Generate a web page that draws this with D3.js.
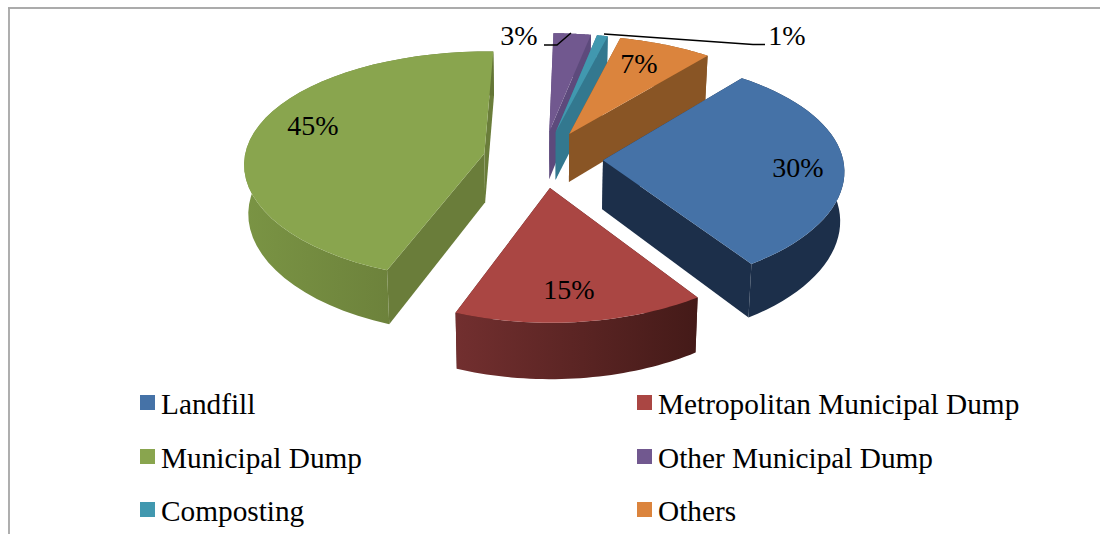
<!DOCTYPE html>
<html><head><meta charset="utf-8">
<script src="https://cdn.jsdelivr.net/npm/d3@7"></script>
<style>html,body{margin:0;padding:0;background:#fff;overflow:hidden}svg{display:block}text{font-family:"Liberation Serif",serif;fill:#000}</style>
</head><body><svg id="c" width="1100" height="534"></svg>
<script>
const categories = ["Landfill","Metropolitan Municipal Dump","Municipal Dump","Other Municipal Dump","Composting","Others"];
const values = [29.7,15.3,44.5,2.75,0.8,6.95];
const valueLabels = ["30%","15%","45%","3%","1%","7%"];
const topColors = ["#4572a7","#aa4643","#89a54e","#71588f","#4198af","#db843d"];
const sideColors = ["#1c2f4a","#4a1c1a","#6a7d3a","#5d4a7c","#33788f","#895525"];
const wallStart = ["#1c2f4a","#722f2f","#7a9444","#5d4a7c","#33788f","#895525"];
const wallEnd = ["#1c2f4a","#441a18","#637535","#5d4a7c","#33788f","#895525"];
const drawOrder = [3,4,5,2,0,1];
const labelPos = [[798,177],[569,299],[313,135],[519,45],[787,45],[639,73]];
const legendPos = [[140,395],[637,395],[140,449],[637,449],[140,502],[637,502]];

const svg = d3.select("#c");
const defs = svg.append("defs");
const CX=543, CY=159, RX=240, RY=114, KX=0.08, KY=0.105, EXPL=0.25, DEPTH=49;
const rad = d3.scaleLinear().domain([0,360]).range([0,2*Math.PI]);
const pie = d3.pie().sort(null).value(d=>d).startAngle(rad(39)).endAngle(rad(399));
const arcs = pie(values);
// project a world point on the pie's plane (z away from the viewer), with perspective
const proj = (X,Z) => [CX+RX*X/(1+KX*Z), CY-RY*Z/(1+KY*Z)];
const projB = (X,Z) => [CX+0.986*RX*X/(1+KX*Z), CY-RY*Z/(1+KY*Z)+DEPTH/(1+KY*Z)];
const line = d3.line().x(d=>d[0]).y(d=>d[1]);
const closed = pts => line(pts)+"Z";

// frame
svg.append("line").attr("x1",8).attr("y1",8).attr("x2",1100).attr("y2",8).attr("stroke","#8f8f8f").attr("stroke-width",1.6);
svg.append("line").attr("x1",9).attr("y1",8).attr("x2",9).attr("y2",534).attr("stroke","#a6a6a6").attr("stroke-width",1.8);

const g = svg.append("g");
drawOrder.forEach(i=>{
  const a=arcs[i], mid=(a.startAngle+a.endAngle)/2;
  const ex=EXPL*Math.sin(mid), ez=EXPL*Math.cos(mid);
  const ts=d3.range(0,41).map(k=>a.startAngle+(a.endAngle-a.startAngle)*k/40);
  const topPt=t=>proj(ex+Math.sin(t),ez+Math.cos(t));
  const botPt=t=>projB(ex+Math.sin(t),ez+Math.cos(t));
  const apexT=proj(ex,ez), apexB=projB(ex,ez);
  const sl=g.append("g");
  [a.startAngle,a.endAngle].forEach(t=>{
    sl.append("path").attr("d",closed([apexT,topPt(t),botPt(t),apexB])).attr("fill",sideColors[i]);
  });
  const topArc=ts.map(topPt), botArc=ts.map(botPt).reverse();
  const xs=topArc.map(d=>d[0]);
  const id="w"+i;
  const gr=defs.append("linearGradient").attr("id",id).attr("gradientUnits","userSpaceOnUse")
    .attr("x1",d3.min(xs)).attr("x2",d3.max(xs)).attr("y1",0).attr("y2",0);
  gr.append("stop").attr("offset",0).attr("stop-color",wallStart[i]);
  gr.append("stop").attr("offset",1).attr("stop-color",wallEnd[i]);
  sl.append("path").attr("d",closed(topArc.concat(botArc))).attr("fill",`url(#${id})`);
  sl.append("path").attr("d",closed([apexT].concat(topArc))).attr("fill",topColors[i]);
});

// leader lines
const leader=[[[544,45],[557,45],[571,33]],[[604,34],[753,44.5],[765,44.5]]];
leader.forEach(l=>svg.append("path").attr("d",line(l)).attr("fill","none").attr("stroke","#000").attr("stroke-width",1.5));

// data labels
svg.selectAll("text.v").data(valueLabels).join("text").attr("class","v")
  .attr("x",(d,i)=>labelPos[i][0]).attr("y",(d,i)=>labelPos[i][1])
  .attr("text-anchor","middle").attr("font-size",28).text(d=>d);

// legend
const lg=svg.selectAll("g.l").data(categories).join("g").attr("class","l");
lg.append("rect").attr("x",(d,i)=>legendPos[i][0]).attr("y",(d,i)=>legendPos[i][1])
  .attr("width",15).attr("height",15).attr("fill",(d,i)=>topColors[i]);
lg.append("text").attr("x",(d,i)=>legendPos[i][0]+21).attr("y",(d,i)=>legendPos[i][1]+18.5)
  .attr("font-size",29.3).text(d=>d);
</script></body></html>
